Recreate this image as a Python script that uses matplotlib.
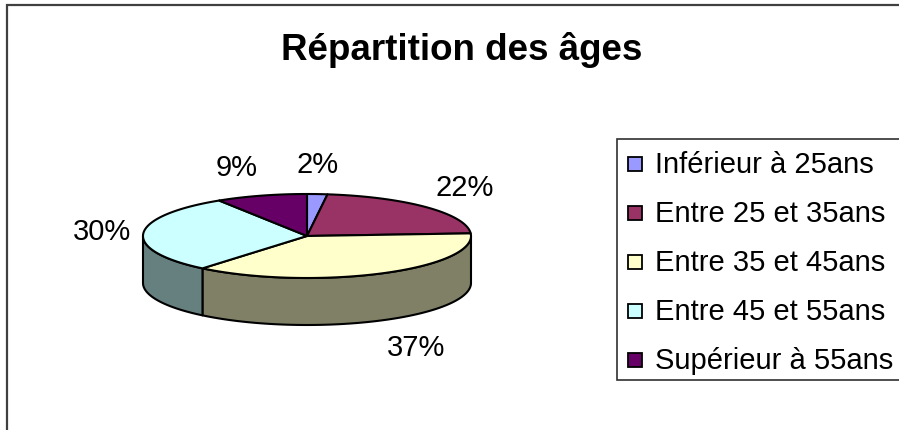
#!/usr/bin/env python3

import numpy as np
import matplotlib
matplotlib.use("Agg")
import matplotlib.pyplot as plt
from matplotlib.patches import Polygon, Rectangle

plt.rcParams['font.family'] = ['Liberation Sans', 'DejaVu Sans']

# data
categories = ['Inférieur à 25ans', 'Entre 25 et 35ans', 'Entre 35 et 45ans',
              'Entre 45 et 55ans', 'Supérieur à 55ans']
percents = [2, 22, 37, 30, 9]
colors = ['#9999FF', '#993366', '#FFFFCC', '#CCFFFF', '#660066']
title = 'Répartition des âges'

W, H = 899, 431

# pie geometry in pixels (y grows downward)
cx, cy = 307, 237
rx, ry = 164, 42
depth = 47


def darker(hexcol, k=0.5):
    rgb = np.array(matplotlib.colors.to_rgb(hexcol))
    return tuple(rgb * k)


def ell(t_deg, a=rx, b=ry):
    t = np.radians(t_deg)
    return cx + a * np.cos(t), cy - b * np.sin(t)


fig = plt.figure(figsize=(W / 100, H / 100), dpi=100)
ax = fig.add_axes([0, 0, 1, 1])
ax.set_xlim(0, W)
ax.set_ylim(H, 0)
ax.axis('off')

# outer chart frame: only top and left edges are inside the picture
ax.plot([7, 7, W + 10], [H + 10, 6, 6], color='#404040', lw=1.6,
        solid_joinstyle='miter')

ax.text(462, 50, title, fontsize=26.5, fontweight='bold', ha='center', va='center')

total = float(sum(percents))
starts = []
ends = []
acc = 0.0
for p in percents:
    starts.append(90 - 360 * acc / total)
    acc += p
    ends.append(90 - 360 * acc / total)

# side walls (front half only)
for i in range(len(percents)):
    lo = max(ends[i], -180)
    hi = min(starts[i], 0)
    if lo >= hi:
        continue
    tt = np.linspace(lo, hi, 80)
    xs, ys = ell(tt)
    top = np.column_stack([xs, ys])
    bot = np.column_stack([xs[::-1], ys[::-1] + depth])
    ax.add_patch(Polygon(np.vstack([top, bot]), closed=True,
                         facecolor=darker(colors[i]), edgecolor='black', lw=1.5,
                         joinstyle='round'))

# top faces
for i in range(len(percents)):
    tt = np.linspace(starts[i], ends[i], 120)
    xs, ys = ell(tt)
    pts = np.vstack([[cx, cy], np.column_stack([xs, ys])])
    ax.add_patch(Polygon(pts, closed=True, facecolor=colors[i],
                         edgecolor='black', lw=1.5, joinstyle='round'))

# data labels, placed just outside the slice like Excel does
for i, p in enumerate(percents):
    mid = (starts[i] + ends[i]) / 2
    lx, ly = ell(mid, rx + 12, ry + 30)
    c = np.cos(np.radians(mid))
    if np.sin(np.radians(mid)) < 0:
        ly += depth
    if c > 0.25:
        ha = 'left'
    elif c < -0.25:
        ha = 'right'
    else:
        ha = 'center'
    ax.text(lx, ly, '%d%%' % p, fontsize=21, ha=ha, va='center')

# legend (its right edge is cut off by the picture)
ax.plot([W + 10, 617, 617, W + 10], [140, 140, 381, 381], color='#303030', lw=1.2,
        solid_joinstyle='miter')
row_y = 165
for i, lab in enumerate(categories):
    y = row_y + i * 49
    ax.add_patch(Rectangle((628, y - 7), 14, 14, facecolor=colors[i],
                           edgecolor='black', lw=1.3))
    ax.text(655, y, lab, fontsize=21, ha='left', va='center')

fig.savefig('out.png', dpi=100)
